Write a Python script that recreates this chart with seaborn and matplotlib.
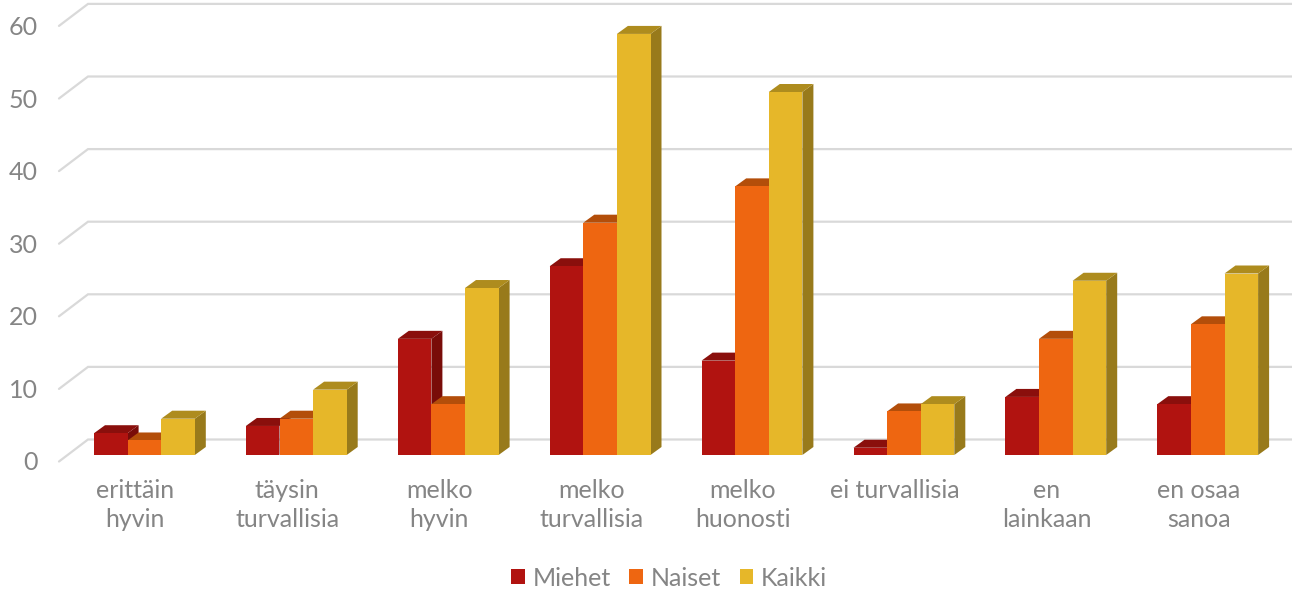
import matplotlib
matplotlib.use("Agg")
import matplotlib.pyplot as plt
from matplotlib.patches import Patch
from matplotlib.transforms import ScaledTranslation
import pandas as pd
import seaborn as sns

categories = ["erittäin\nhyvin", "täysin\nturvallisia", "melko\nhyvin", "melko\nturvallisia",
              "melko\nhuonosti", "ei turvallisia", "en\nlainkaan", "en osaa\nsanoa"]
miehet = [3, 4, 16, 26, 13, 1, 8, 7]
naiset = [2, 5, 7, 32, 37, 6, 16, 18]
kaikki = [5, 9, 23, 58, 50, 7, 24, 25]
series_names = ["Miehet", "Naiset", "Kaikki"]
y_ticks = [0, 10, 20, 30, 40, 50, 60]

front_colors = ["#B11310", "#EE6611", "#E6B729"]
top_colors = ["#8A0F0C", "#B34E0A", "#AE8C1E"]
side_colors = ["#790C09", "#A3460A", "#987A1B"]
grid_color = "#D9D9D9"
text_color = "#858585"

W, H = 1292, 591
PX_PER_CAT = 151.9
PX_PER_UNIT = 7.26
GROUP_WIDTH = 100.8 / PX_PER_CAT
BAR_DX = 11 / PX_PER_CAT
BAR_DY = 8 / PX_PER_UNIT
WALL_DX = 29 / PX_PER_CAT
WALL_DY = 22 / PX_PER_UNIT
FIRST_CENTER_PX = 144.4
LEFT_PX, BASE_PX = 59, 455

sns.set_style("white")
plt.rcParams["font.family"] = ["Lato", "DejaVu Sans"]

df = pd.DataFrame({
    "category": categories * 3,
    "series": [n for n in series_names for _ in categories],
    "value": miehet + naiset + kaikki,
})

fig = plt.figure(figsize=(W / 100, H / 100), dpi=100)
ax = fig.add_axes([LEFT_PX / W, 1 - BASE_PX / H, (W - LEFT_PX) / W, BASE_PX / H])

sns.barplot(data=df, x="category", y="value", hue="series", hue_order=series_names,
            palette=front_colors, saturation=1, width=GROUP_WIDTH, gap=0, dodge=True,
            legend=False, ax=ax, zorder=5, linewidth=0)

xmin = (LEFT_PX - FIRST_CENTER_PX) / PX_PER_CAT
xmax = (W - FIRST_CENTER_PX) / PX_PER_CAT
ax.set_xlim(xmin, xmax)
ax.set_ylim(0, BASE_PX / PX_PER_UNIT)
ax.set_xlabel("")
ax.set_ylabel("")

# Floor-to-wall gridlines: a slanted stub at the left, then the back wall line.
base_offset = -6.5 / PX_PER_UNIT
for tick in y_ticks:
    y_front = tick + base_offset
    y_back = y_front + WALL_DY
    ax.plot([xmin, xmin + WALL_DX, xmax], [y_front, y_back, y_back],
            color=grid_color, lw=1.6, zorder=1, clip_on=False, solid_joinstyle="miter")

# Extruded faces of each bar, built from the bars the library just drew.
bar_width = GROUP_WIDTH / len(series_names)
for s, values in enumerate([miehet, naiset, kaikki]):
    for c, value in enumerate(values):
        x0 = c - GROUP_WIDTH / 2 + s * bar_width
        x1 = x0 + bar_width
        ax.fill([x1, x1 + BAR_DX, x1 + BAR_DX, x1],
                [0, BAR_DY, value + BAR_DY, value],
                color=side_colors[s], lw=0, zorder=2 + s * 0.1)
        ax.fill([x0, x0 + BAR_DX, x1 + BAR_DX, x1],
                [value, value + BAR_DY, value + BAR_DY, value],
                color=top_colors[s], lw=0, zorder=2.05 + s * 0.1)

ax.set_yticks(y_ticks)
ax.tick_params(axis="both", length=0, colors=text_color, labelsize=18)
ax.tick_params(axis="y", pad=15)
ax.tick_params(axis="x", pad=17.5)
for label in ax.get_xticklabels():
    label.set_linespacing(1.32)
    label.set_transform(label.get_transform() + ScaledTranslation(-9 / 100, 0, fig.dpi_scale_trans))
for label in ax.get_yticklabels():
    label.set_transform(label.get_transform() + ScaledTranslation(0, -6 / 100, fig.dpi_scale_trans))
sns.despine(ax=ax, left=True, bottom=True, top=True, right=True)

handles = [Patch(facecolor=c, edgecolor="none", label=n) for c, n in zip(front_colors, series_names)]
fig.legend(handles=handles, loc="center", bbox_to_anchor=(669 / W, 1 - 578 / H), ncol=3, frameon=False,
           fontsize=18, labelcolor=text_color, handlelength=0.55, handleheight=0.55,
           handletextpad=0.3, columnspacing=0.75)

fig.savefig("out.png", dpi=100)
